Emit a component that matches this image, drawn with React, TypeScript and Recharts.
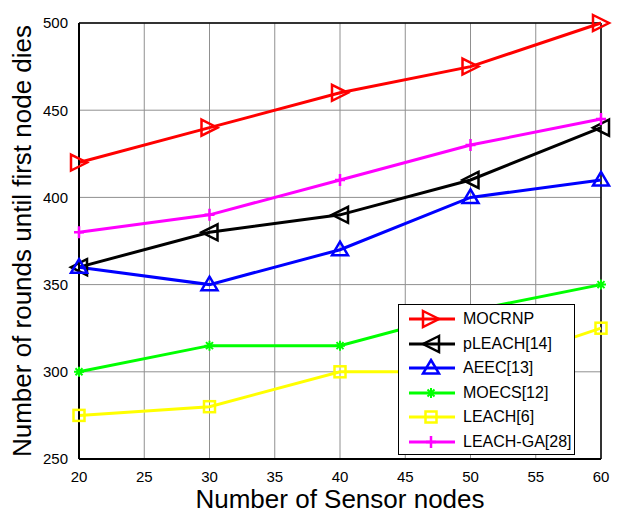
import React from 'react';
import { LineChart, Line, XAxis, YAxis, CartesianGrid, ReferenceLine, Label } from 'recharts';

const nodes = [20, 30, 40, 50, 60];
const mocrnp = [420, 440, 460, 475, 500];
const pleach = [360, 380, 390, 410, 440];
const aeec = [360, 350, 370, 400, 410];
const moecs = [300, 315, 315, 335, 350];
const leach = [275, 280, 300, 300, 325];
const leachGa = [380, 390, 410, 430, 445];

const xTicks = [20, 25, 30, 35, 40, 45, 50, 55, 60];
const yTicks = [250, 300, 350, 400, 450, 500];

const data = nodes.map((n, i) => ({
  n,
  mocrnp: mocrnp[i],
  pleach: pleach[i],
  aeec: aeec[i],
  moecs: moecs[i],
  leach: leach[i],
  leachGa: leachGa[i],
}));

type Shape = 'right' | 'left' | 'up' | 'star' | 'square' | 'plus';

const series: { key: string; name: string; color: string; shape: Shape }[] = [
  { key: 'mocrnp', name: 'MOCRNP', color: '#ff0000', shape: 'right' },
  { key: 'pleach', name: 'pLEACH[14]', color: '#000000', shape: 'left' },
  { key: 'aeec', name: 'AEEC[13]', color: '#0000ff', shape: 'up' },
  { key: 'moecs', name: 'MOECS[12]', color: '#00ff00', shape: 'star' },
  { key: 'leach', name: 'LEACH[6]', color: '#ffff00', shape: 'square' },
  { key: 'leachGa', name: 'LEACH-GA[28]', color: '#ff00ff', shape: 'plus' },
];

const font = 'Arial, "Liberation Sans", sans-serif';

function marker(shape: Shape, color: string, cx: number, cy: number) {
  const s = 8;
  const common = { stroke: color, strokeWidth: 2.5, fill: 'none' };
  switch (shape) {
    case 'right':
      return <polygon {...common} points={`${cx - s},${cy - s} ${cx + s},${cy} ${cx - s},${cy + s}`} />;
    case 'left':
      return <polygon {...common} points={`${cx + s},${cy - s} ${cx - s},${cy} ${cx + s},${cy + s}`} />;
    case 'up':
      return <polygon {...common} points={`${cx},${cy - s} ${cx + s},${cy + s * 0.7} ${cx - s},${cy + s * 0.7}`} />;
    case 'square':
      return <rect {...common} x={cx - 5.5} y={cy - 5.5} width={11} height={11} />;
    case 'plus':
      return <path {...common} d={`M${cx - 5},${cy}H${cx + 5}M${cx},${cy - 6}V${cy + 6}`} />;
    case 'star':
      return (
        <path
          {...common}
          strokeWidth={2}
          d={`M${cx - 5},${cy}H${cx + 5}M${cx},${cy - 5}V${cy + 5}M${cx - 3.5},${cy - 3.5}L${cx + 3.5},${cy + 3.5}M${cx - 3.5},${cy + 3.5}L${cx + 3.5},${cy - 3.5}`}
        />
      );
  }
}

const makeDot = (shape: Shape, color: string) => (props: any) => {
  const { cx, cy, index } = props;
  if (cx == null || cy == null) return <g key={index} />;
  return <g key={index}>{marker(shape, color, cx, cy)}</g>;
};

const LegendBox = () => (
  <div
    style={{
      position: 'absolute',
      left: 398,
      top: 304,
      border: '1px solid #000',
      background: '#fff',
      width: 177,
      height: 151,
      boxSizing: 'border-box',
      padding: '2px 0',
      fontFamily: font,
      fontSize: 16,
      color: '#000',
    }}
  >
    {series.map((s) => (
      <div key={s.key} style={{ display: 'flex', alignItems: 'center', height: 24.5 }}>
        <svg width={50} height={20} style={{ marginLeft: 8 }}>
          <line x1={2} y1={10} x2={48} y2={10} stroke={s.color} strokeWidth={3} />
          {marker(s.shape, s.color, 24, 10)}
        </svg>
        <span style={{ marginLeft: 6 }}>{s.name}</span>
      </div>
    ))}
  </div>
);

const App: React.FC = () => {
  return (
    <div style={{ position: 'absolute', left: 0, top: 0, width: 618, height: 513, background: '#fff' }}>
      <LineChart width={618} height={513} data={data} margin={{ top: 23, right: 17, left: 0, bottom: 0 }}>
        <CartesianGrid stroke="#909090" strokeWidth={1} />
        <XAxis
          dataKey="n"
          type="number"
          domain={[20, 60]}
          ticks={xTicks}
          height={54}
          stroke="#000"
          strokeWidth={2}
          tickLine={false}
          tick={{ fill: '#000', fontSize: 15, fontFamily: font }}
          tickMargin={6}
        >
          <Label
            value="Number of Sensor nodes"
            position="insideBottom"
            offset={5}
            style={{ fontSize: 26, fontFamily: font, fill: '#000' }}
          />
        </XAxis>
        <YAxis
          type="number"
          domain={[250, 500]}
          ticks={yTicks}
          width={79}
          stroke="#000"
          strokeWidth={2}
          tickLine={false}
          tick={{ fill: '#000', fontSize: 15, fontFamily: font }}
          tickMargin={5}
        >
          <Label
            value="Number of rounds until first node dies"
            angle={-90}
            position="insideLeft"
            offset={22}
            style={{ fontSize: 26, fontFamily: font, fill: '#000', textAnchor: 'middle' }}
          />
        </YAxis>
        <ReferenceLine y={500} stroke="#000" strokeWidth={1.5} />
        <ReferenceLine x={60} stroke="#000" strokeWidth={1.5} />
        {series.map((s) => (
          <Line
            key={s.key}
            dataKey={s.key}
            name={s.name}
            stroke={s.color}
            strokeWidth={3}
            dot={makeDot(s.shape, s.color)}
            activeDot={false}
            isAnimationActive={false}
          />
        ))}
      </LineChart>
      <LegendBox />
    </div>
  );
};

export default App;
